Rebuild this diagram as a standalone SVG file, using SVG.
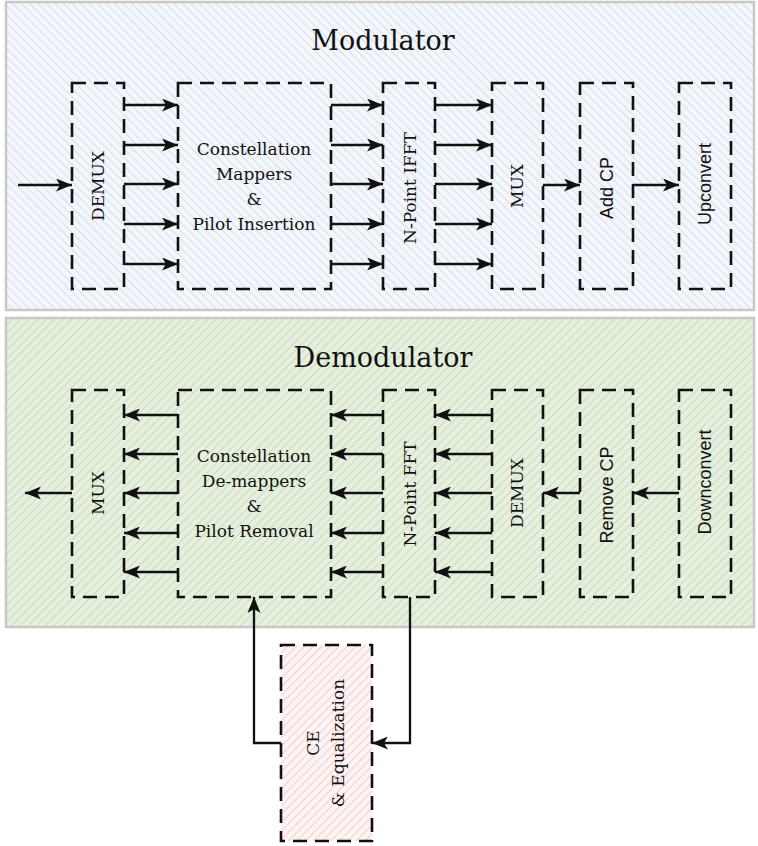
<svg xmlns="http://www.w3.org/2000/svg" width="758" height="846" viewBox="0 0 758 846">
<style>
.blk{fill:none;stroke:#111;stroke-width:2.6;stroke-dasharray:14 8}
.ser{font-family:"DejaVu Serif","Liberation Serif",serif;font-size:17px;fill:#111;text-anchor:middle}
.san{font-family:"Liberation Sans",Arial,sans-serif;font-size:18px;fill:#111;text-anchor:middle}
.ttl{font-family:"DejaVu Serif","Liberation Serif",serif;font-size:27px;fill:#111;text-anchor:middle}
.con{fill:none;stroke:#111;stroke-width:2.3}
.panel{stroke:#c8c8c8;stroke-width:2.5}
</style>
<defs>
<pattern id="hBlue" width="6" height="6" patternUnits="userSpaceOnUse" patternTransform="rotate(-45)">
<rect width="6" height="6" fill="#f3f6fb"/><line x1="0" y1="0" x2="0" y2="6" stroke="#d6deea" stroke-width="2"/>
</pattern>
<pattern id="hGreen" width="6" height="6" patternUnits="userSpaceOnUse" patternTransform="rotate(45)">
<rect width="6" height="6" fill="#e5f1dc"/><line x1="0" y1="0" x2="0" y2="6" stroke="#cdd9c7" stroke-width="2"/>
</pattern>
<pattern id="hPink" width="6" height="6" patternUnits="userSpaceOnUse" patternTransform="rotate(45)">
<rect width="6" height="6" fill="#fdf4f4"/><line x1="0" y1="0" x2="0" y2="6" stroke="#f7cccc" stroke-width="2"/>
</pattern>
<marker id="ah" viewBox="0 0 16 13" refX="16" refY="6.5" markerWidth="16" markerHeight="13" markerUnits="userSpaceOnUse" orient="auto">
<path d="M0,0 L16,6.5 L0,13 L4,6.5 Z" fill="#111"/>
</marker>
</defs>
<rect width="758" height="846" fill="#fff"/>

<g id="modulator-panel">
<rect class="panel" x="6" y="2" width="748" height="308" fill="url(#hBlue)"/>
<text class="ttl" x="383" y="50">Modulator</text>
</g>
<g id="demodulator-panel">
<rect class="panel" x="6" y="318" width="748" height="309" fill="url(#hGreen)"/>
<text class="ttl" x="383" y="367">Demodulator</text>
</g>

<g id="mod-demux"><rect class="blk" x="72" y="83" width="52" height="206"/>
<text class="ser" transform="translate(98,186) rotate(-90)" y="6">DEMUX</text></g>
<g id="mod-mapper"><rect class="blk" x="178" y="83" width="153" height="206"/>
<text class="ser" x="254" y="155">Constellation</text>
<text class="ser" x="254" y="180">Mappers</text>
<text class="ser" x="254" y="205">&amp;</text>
<text class="ser" x="254" y="230">Pilot Insertion</text></g>
<g id="mod-ifft"><rect class="blk" x="383" y="83" width="52" height="206"/>
<text class="ser" transform="translate(410,188) rotate(-90)" y="6">N-Point IFFT</text></g>
<g id="mod-mux"><rect class="blk" x="492" y="83" width="51" height="206"/>
<text class="ser" transform="translate(517,186) rotate(-90)" y="6">MUX</text></g>
<g id="mod-addcp"><rect class="blk" x="580" y="83" width="53" height="206"/>
<text class="san" transform="translate(607,188) rotate(-90)" y="6">Add CP</text></g>
<g id="mod-upconvert"><rect class="blk" x="679" y="83" width="52" height="206"/>
<text class="san" transform="translate(705,184) rotate(-90)" y="6">Upconvert</text></g>

<g id="dem-mux"><rect class="blk" x="72" y="390" width="52" height="207"/>
<text class="ser" transform="translate(98,493) rotate(-90)" y="6">MUX</text></g>
<g id="dem-demapper"><rect class="blk" x="178" y="390" width="153" height="207"/>
<text class="ser" x="254" y="462">Constellation</text>
<text class="ser" x="254" y="487">De-mappers</text>
<text class="ser" x="254" y="512">&amp;</text>
<text class="ser" x="254" y="537">Pilot Removal</text></g>
<g id="dem-fft"><rect class="blk" x="383" y="390" width="52" height="207"/>
<text class="ser" transform="translate(410,494) rotate(-90)" y="6">N-Point FFT</text></g>
<g id="dem-demux"><rect class="blk" x="492" y="390" width="51" height="207"/>
<text class="ser" transform="translate(517,493) rotate(-90)" y="6">DEMUX</text></g>
<g id="dem-removecp"><rect class="blk" x="580" y="390" width="53" height="207"/>
<text class="san" transform="translate(607,495) rotate(-90)" y="6">Remove CP</text></g>
<g id="dem-downconvert"><rect class="blk" x="679" y="390" width="52" height="207"/>
<text class="san" transform="translate(705,482) rotate(-90)" y="6">Downconvert</text></g>

<g id="ce-eq"><rect class="blk" x="281" y="645" width="91" height="196" style="fill:url(#hPink)"/>
<text class="ser" transform="translate(313,743) rotate(-90)" y="6">CE</text>
<text class="ser" transform="translate(338,743) rotate(-90)" y="6">&amp; Equalization</text></g>

<g id="connectors" class="con" marker-end="url(#ah)">
<path d="M18,185 H72"/>
<path d="M124,105 H178"/><path d="M124,145 H178"/><path d="M124,184 H178"/><path d="M124,224 H178"/><path d="M124,264 H178"/>
<path d="M331,105 H383"/><path d="M331,145 H383"/><path d="M331,184 H383"/><path d="M331,224 H383"/><path d="M331,264 H383"/>
<path d="M435,105 H492"/><path d="M435,145 H492"/><path d="M435,184 H492"/><path d="M435,224 H492"/><path d="M435,264 H492"/>
<path d="M543,185 H580"/>
<path d="M633,185 H679"/>
<path d="M178,415 H124"/><path d="M178,454 H124"/><path d="M178,493 H124"/><path d="M178,533 H124"/><path d="M178,572 H124"/>
<path d="M383,415 H331"/><path d="M383,454 H331"/><path d="M383,493 H331"/><path d="M383,533 H331"/><path d="M383,572 H331"/>
<path d="M492,415 H435"/><path d="M492,454 H435"/><path d="M492,493 H435"/><path d="M492,533 H435"/><path d="M492,572 H435"/>
<path d="M580,493 H543"/>
<path d="M679,493 H633"/>
<path d="M72,493 H25"/>
<path d="M281,743 H254 V597"/>
<path d="M410,597 V743 H372"/>
</g>
</svg>
